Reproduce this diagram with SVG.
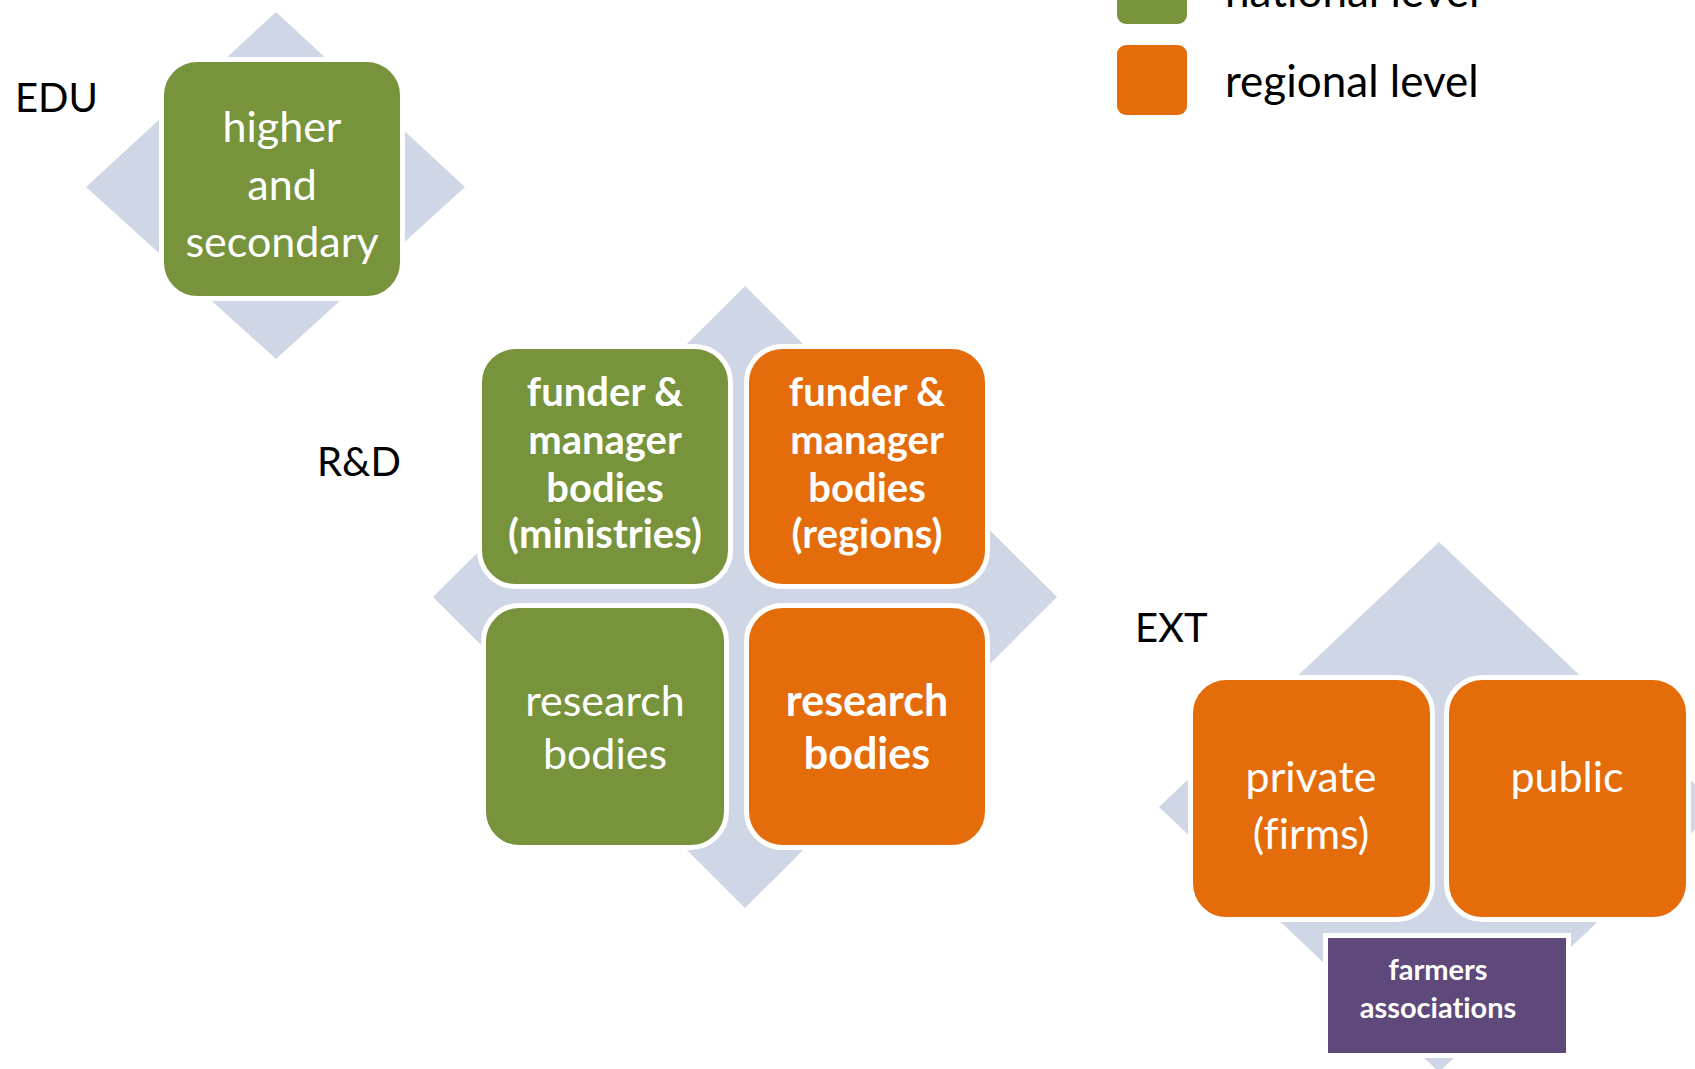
<svg xmlns="http://www.w3.org/2000/svg" width="1695" height="1069" viewBox="0 0 1695 1069">
  <style>
    .bg { fill: #FFFFFF; }
    .dia { fill: #CFD6E5; }
    .box { stroke: #FFFFFF; stroke-width: 5; }
    .green { fill: #77933C; }
    .orange { fill: #E46C0A; }
    .purple { fill: #5F497A; }
    text { font-variant-ligatures: none; }
    .lbl { font-family: Lato, "Liberation Sans", sans-serif; font-size: 40px; fill: #000000; }
    .leg { font-family: Lato, "Liberation Sans", sans-serif; font-size: 44px; fill: #000000; }
    .t { font-family: Lato, "Liberation Sans", sans-serif; fill: #FFFFFF; text-anchor: middle; }
    .reg { font-size: 43px; font-weight: 400; }
    .bold { font-size: 40px; font-weight: 700; }
    .small { font-size: 29px; font-weight: 700; }
  </style>
  <rect class="bg" x="0" y="0" width="1695" height="1069"/>

  <g id="legend">
    <g id="legend-national">
      <rect class="green" x="1117" y="-46" width="70" height="70" rx="9"/>
      <text class="leg" x="1225" y="7">national level</text>
    </g>
    <g id="legend-regional">
      <rect class="orange" x="1117" y="45" width="70" height="70" rx="9"/>
      <text class="leg" x="1225" y="97">regional level</text>
    </g>
  </g>

  <g id="connectors"></g>

  <g id="edu">
    <polygon class="dia" points="276,12 465,187 276,359 86,187"/>
    <text class="lbl" x="15" y="112">EDU</text>
    <g id="node-edu-higher">
      <rect class="box green" x="161.5" y="59.5" width="241" height="239" rx="36"/>
      <text class="t reg" x="282"><tspan x="282" y="142">higher</tspan><tspan x="282" y="200">and</tspan><tspan x="282" y="257">secondary</tspan></text>
    </g>
  </g>

  <g id="rd">
    <polygon class="dia" points="745,286 1057,597 745,908 433,597"/>
    <text class="lbl" x="317" y="476">R&amp;D</text>
    <g id="node-rd-funder-national">
      <rect class="box green" x="479.5" y="346.5" width="251" height="240" rx="36"/>
      <text class="t bold"><tspan x="605" y="406">funder &amp;</tspan><tspan x="605" y="454">manager</tspan><tspan x="605" y="502">bodies</tspan><tspan x="605" y="548">(ministries)</tspan></text>
    </g>
    <g id="node-rd-funder-regional">
      <rect class="box orange" x="746.5" y="346.5" width="241" height="240" rx="36"/>
      <text class="t bold"><tspan x="867" y="406">funder &amp;</tspan><tspan x="867" y="454">manager</tspan><tspan x="867" y="502">bodies</tspan><tspan x="867" y="548">(regions)</tspan></text>
    </g>
    <g id="node-rd-research-national">
      <rect class="box green" x="483.5" y="605.5" width="243" height="242" rx="36"/>
      <text class="t reg"><tspan x="605" y="716">research</tspan><tspan x="605" y="769">bodies</tspan></text>
    </g>
    <g id="node-rd-research-regional">
      <rect class="box orange" x="746.5" y="605.5" width="241" height="242" rx="36"/>
      <text class="t reg" style="font-weight:700"><tspan x="867" y="716">research</tspan><tspan x="867" y="769">bodies</tspan></text>
    </g>
  </g>

  <g id="ext">
    <polygon class="dia" points="1439,542 1719,807 1439,1072 1159,807"/>
    <text class="lbl" x="1135" y="642">EXT</text>
    <g id="node-ext-private">
      <rect class="box orange" x="1190.5" y="677.5" width="242" height="242" rx="36"/>
      <text class="t reg"><tspan x="1311" y="792">private</tspan><tspan x="1311" y="849">(firms)</tspan></text>
    </g>
    <g id="node-ext-public">
      <rect class="box orange" x="1446.5" y="677.5" width="242" height="242" rx="36"/>
      <text class="t reg"><tspan x="1567" y="792">public</tspan></text>
    </g>
    <g id="node-ext-farmers">
      <rect class="box purple" x="1325.5" y="935.5" width="243" height="120"/>
      <text class="t small"><tspan x="1438" y="980">farmers</tspan><tspan x="1438" y="1018">associations</tspan></text>
    </g>
  </g>
</svg>
